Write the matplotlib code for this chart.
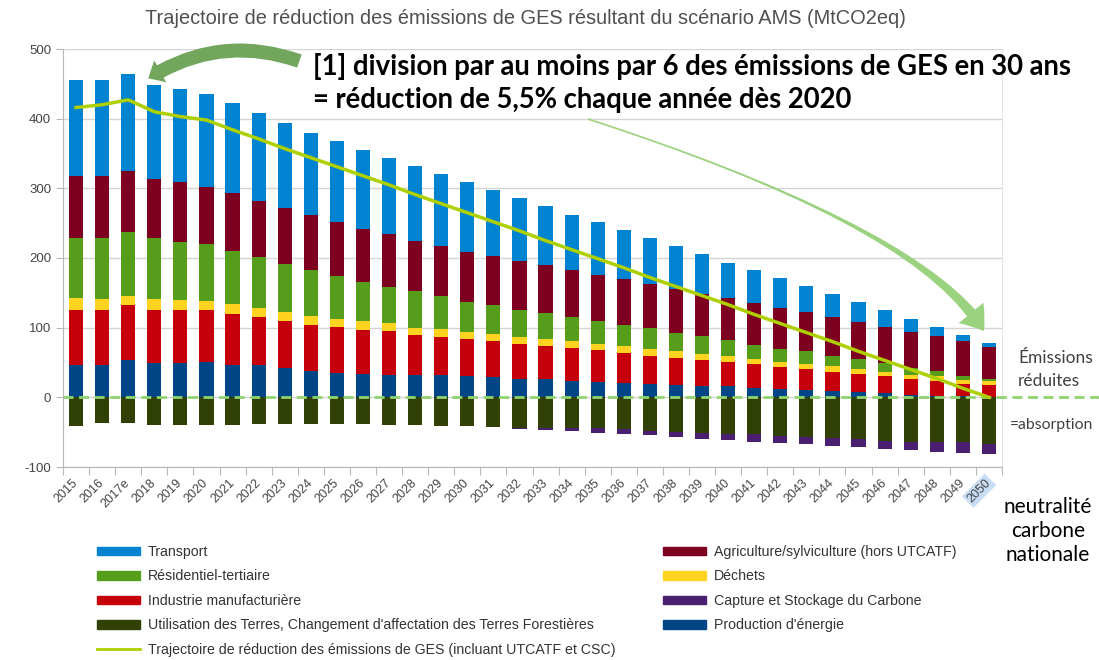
import numpy as np
import matplotlib
matplotlib.use('Agg')
import matplotlib.pyplot as plt
from matplotlib.patches import FancyArrowPatch, Patch
from matplotlib.lines import Line2D

plt.rcParams['axes.unicode_minus'] = False

# ---------------------------------------------------------------- données (MtCO2eq)
years = ['2015', '2016', '2017e', '2018', '2019', '2020', '2021', '2022', '2023', '2024',
         '2025', '2026', '2027', '2028', '2029', '2030', '2031', '2032', '2033', '2034',
         '2035', '2036', '2037', '2038', '2039', '2040', '2041', '2042', '2043', '2044',
         '2045', '2046', '2047', '2048', '2049', '2050']

production = [46, 47, 53, 50, 50, 51, 47, 46, 42, 38.5, 35, 33, 32, 32, 32, 31, 29, 27,
              26, 24, 22.5, 21, 19, 18, 16, 15.7, 14, 12.6, 11, 9, 7, 5.7, 3.8, 2.4, 1.4, 0.5]
industrie = [80, 79, 79, 76, 75, 74, 73, 69, 68, 66, 66, 64, 63, 58, 55, 53, 52, 50,
             47, 46.5, 45.5, 43, 41, 39, 37, 35.3, 33.5, 31.4, 30, 28, 27, 24.3, 22.2, 21.6, 17.6, 16.5]
dechets = [17, 15, 14, 15, 14, 13, 14, 13, 13, 12.5, 11, 12, 11, 10, 11, 10, 10, 10,
           11, 10.5, 9, 9, 10, 10, 9, 8, 7, 7, 7, 8, 7, 7, 6, 6, 6, 6]
residentiel = [86, 88, 91, 87, 84, 82, 76, 73, 69, 66, 62, 57, 53, 52, 47, 43, 41, 39,
               37, 34, 32, 31, 29, 26, 26, 23, 20.4, 19, 19, 15, 14, 12, 10, 8, 6, 4]
agriculture = [89, 89, 88, 86, 86, 82, 83, 81, 80, 79, 77, 76, 75, 73, 72, 72, 71, 70,
               69, 68, 67, 66, 64, 63, 60, 61, 60, 58, 55, 55, 53, 52, 52, 50, 50, 45]
transport = [138, 138, 139, 134, 133, 133, 129, 126, 122, 118, 117, 113, 109, 107, 103, 100, 95, 90,
             84, 79, 76, 70, 66, 61, 58, 50, 48, 43, 38, 34, 29, 24, 19, 13, 9, 6.5]
utcatf = [-41, -37.5, -37.5, -40, -39, -39, -39, -38, -38, -38, -38, -38, -39, -39, -40.6, -41.6, -43, -44,
          -44, -44.5, -44.5, -46, -48.5, -49.5, -51, -52, -53.3, -55, -57, -59, -60, -62, -64, -64, -64, -66.5]
csc = [0, 0, 0, 0, 0, 0, 0, 0, 0, 0, 0, 0, 0, 0, 0, 0, 0, -1,
       -3, -4.5, -6, -6.5, -6, -7.5, -8.5, -9.5, -10.2, -10, -10.5, -11, -12, -12, -12, -15, -16, -15.5]
trajectoire = [416, 420, 427, 410, 403, 398, 384, 371, 357, 344, 331, 318, 305, 291, 278, 265, 252, 239,
               225, 212, 199, 186, 172, 159, 146, 133, 119, 106, 93, 80, 66, 53, 40, 27, 13, 0]

# palette LibreOffice
c_prod = '#004586'
c_ind = '#c5000b'
c_dech = '#ffd320'
c_res = '#579d1c'
c_agr = '#7e0021'
c_trans = '#0084d1'
c_utc = '#314004'
c_csc = '#4b1f6f'
c_traj = '#aecf00'

W, H = 1099, 660


def fp(px, py):
    # pixels (origine en haut à gauche) -> fraction de figure
    return (px / W, 1 - py / H)


fig = plt.figure(figsize=(W / 100, H / 100), dpi=100)
ax = fig.add_axes([63 / W, 1 - 467 / H, (1002 - 63) / W, (467 - 49) / H])

x = np.arange(len(years))
bw = 0.54

# barres empilées positives
bottom = np.zeros(len(years))
for vals, col in [(production, c_prod), (industrie, c_ind), (dechets, c_dech),
                  (residentiel, c_res), (agriculture, c_agr), (transport, c_trans)]:
    ax.bar(x, vals, bw, bottom=bottom, color=col, linewidth=0, zorder=2)
    bottom += np.array(vals)

# puits (négatif)
ax.bar(x, utcatf, bw, color=c_utc, linewidth=0, zorder=2)
ax.bar(x, csc, bw, bottom=utcatf, color=c_csc, linewidth=0, zorder=2)

# ligne zéro en tirets qui sort du graphique
ax.plot([-0.5, 39.5], [0, 0], color='#8fd46e', lw=2, dashes=(3.6, 2), clip_on=False, zorder=3)

ax.plot(x, trajectoire, color=c_traj, lw=2.5, zorder=4)

ax.set_xlim(-0.5, 35.5)
ax.set_ylim(-100, 500)
ax.set_yticks(range(-100, 501, 100))
ax.yaxis.grid(True, color='#d4d4d4', lw=1)
ax.set_axisbelow(True)

ax.set_xticks(np.arange(-0.5, 36, 1))
ax.set_xticklabels([])
ax.set_xticks(x, minor=True)
ax.set_xticklabels(years, minor=True, rotation=45, ha='right', va='center',
                   rotation_mode='anchor', fontsize=9, color='#444444', family='Liberation Sans')
ax.tick_params(axis='x', which='major', length=6, color='#b8b8b8')
ax.tick_params(axis='x', which='minor', length=0, pad=10)
ax.tick_params(axis='y', length=5, color='#b8b8b8', labelsize=9.5, labelcolor='#444444')
for lab in ax.get_yticklabels():
    lab.set_family('Liberation Sans')
ax.get_xticklabels(minor=True)[-1].set_bbox(dict(facecolor='#c9def5', edgecolor='none', pad=1.5))

for s in ['left', 'bottom']:
    ax.spines[s].set_color('#b8b8b8')
ax.spines['right'].set_color('#e4e4e4')
ax.spines['top'].set_visible(False)

# titre
fig.text(*fp(525, 18), 'Trajectoire de réduction des émissions de GES résultant du scénario AMS (MtCO2eq)',
         ha='center', va='center', fontsize=14.4, color='#505050', family='Liberation Sans')

# annotation
fig.text(*fp(313, 67), '[1] division par au moins par 6 des émissions de GES en 30 ans',
         ha='left', va='center', fontsize=19.8, weight='bold', family='Lato', color='black')
fig.text(*fp(313, 100), '= réduction de 5,5% chaque année dès 2020',
         ha='left', va='center', fontsize=19.8, weight='bold', family='Lato', color='black')

# flèche 1 (vers 2017)
a1 = FancyArrowPatch(fp(302, 62), fp(146, 80), transform=fig.transFigure,
                     connectionstyle='arc3,rad=0.25',
                     arrowstyle='simple,head_length=1.0,head_width=1.8,tail_width=1.0',
                     mutation_scale=10, color='#72a65c', lw=0)
fig.add_artist(a1)

# flèche 2 (vers 2050) : corps effilé + pointe
start2, tip2 = fp(588, 119), fp(984, 331)
a2_body = FancyArrowPatch(tip2, start2, transform=fig.transFigure,
                          connectionstyle='angle3,angleA=-59,angleB=-18',
                          arrowstyle='wedge,tail_width=0.4,shrink_factor=0.3',
                          mutation_scale=20, shrinkA=11, shrinkB=0, color='#9bd27f', lw=0)
fig.add_artist(a2_body)
a2_head = FancyArrowPatch(start2, tip2, transform=fig.transFigure,
                          connectionstyle='angle3,angleA=-18,angleB=-59',
                          arrowstyle='simple,head_length=0.8,head_width=1.15,tail_width=0.06',
                          mutation_scale=20, shrinkA=0, shrinkB=0, color='#9bd27f', lw=0)
fig.add_artist(a2_head)

# textes à droite
fig.text(*fp(1018, 358), 'Émissions', va='center', fontsize=12.5, family='Lato', color='#404040')
fig.text(*fp(1018, 381), 'réduites', va='center', fontsize=12.5, family='Lato', color='#404040')
fig.text(*fp(1010, 425), '=absorption', va='center', fontsize=11.3, family='Lato', color='#404040')
fig.text(*fp(1048, 531), 'neutralité\ncarbone\nnationale', ha='center', va='center',
         fontsize=15, family='Lato', color='black', linespacing=1.27)

# légende
h_left = [Patch(color=c_trans, label='Transport'),
          Patch(color=c_res, label='Résidentiel-tertiaire'),
          Patch(color=c_ind, label='Industrie manufacturière'),
          Patch(color=c_utc, label="Utilisation des Terres, Changement d'affectation des Terres Forestières"),
          Line2D([], [], color=c_traj, lw=2, label='Trajectoire de réduction des émissions de GES (incluant UTCATF et CSC)')]
h_right = [Patch(color=c_agr, label='Agriculture/sylviculture (hors UTCATF)'),
           Patch(color=c_dech, label='Déchets'),
           Patch(color=c_csc, label='Capture et Stockage du Carbone'),
           Patch(color=c_prod, label="Production d'énergie")]
leg_kw = dict(loc='upper left', frameon=False, prop=dict(family='Liberation Sans', size=10.2),
              labelcolor='#333333', handlelength=3.0, handleheight=0.55, handletextpad=0.6,
              labelspacing=0.74, borderpad=0, borderaxespad=0)
fig.legend(handles=h_left, bbox_to_anchor=fp(97, 545), **leg_kw)
fig.legend(handles=h_right, bbox_to_anchor=fp(663, 545), **leg_kw)

fig.savefig('out.png', dpi=100)
